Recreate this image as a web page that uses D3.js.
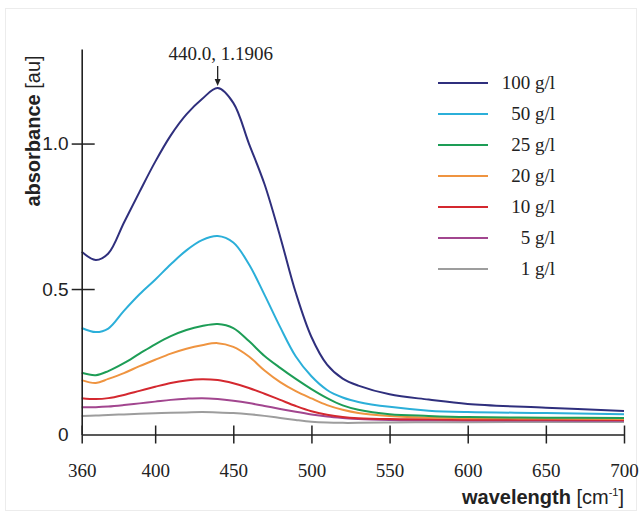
<!DOCTYPE html>
<html>
<head>
<meta charset="utf-8">
<script src="https://cdn.jsdelivr.net/npm/d3@7"></script>
<style>
  body { margin: 0; background: #fff; }
  svg { display: block; }
</style>
</head>
<body>
<div id="chart"></div>
<script>
// wavelengths (nm) the curves were read at
const wavelengths = [353, 362, 370, 380, 390, 400, 410, 420, 430, 440, 450, 460, 470,
    480, 490, 500, 510, 520, 530, 550, 575, 600, 650, 700];

const seriesNames = ['100 g/l', '50 g/l', '25 g/l', '20 g/l', '10 g/l', '5 g/l', '1 g/l'];
const seriesColors = ['#2f2f7d', '#2bafd9', '#1d9d56', '#ef9440', '#d4282f', '#a2468f', '#9d9d9d'];

const abs100 = [0.628, 0.600, 0.622, 0.728, 0.834, 0.937, 1.028, 1.100, 1.153, 1.1906, 1.140, 1.000, 0.860,
    0.680, 0.487, 0.335, 0.240, 0.192, 0.168, 0.138, 0.120, 0.105, 0.092, 0.081];
const abs50 = [0.366, 0.352, 0.364, 0.425, 0.482, 0.532, 0.585, 0.633, 0.668, 0.682, 0.660, 0.585, 0.480,
    0.369, 0.268, 0.200, 0.153, 0.127, 0.112, 0.095, 0.082, 0.077, 0.074, 0.070];
const abs25 = [0.212, 0.204, 0.218, 0.245, 0.278, 0.310, 0.338, 0.359, 0.373, 0.380, 0.366, 0.321, 0.270,
    0.229, 0.191, 0.156, 0.125, 0.100, 0.085, 0.070, 0.064, 0.060, 0.058, 0.057];
const abs20 = [0.187, 0.177, 0.191, 0.211, 0.235, 0.257, 0.278, 0.295, 0.307, 0.314, 0.301, 0.268, 0.220,
    0.180, 0.149, 0.124, 0.101, 0.085, 0.074, 0.064, 0.058, 0.056, 0.055, 0.053];
const abs10 = [0.125, 0.122, 0.125, 0.136, 0.150, 0.164, 0.177, 0.186, 0.190, 0.187, 0.176, 0.160, 0.140,
    0.119, 0.098, 0.080, 0.068, 0.060, 0.056, 0.053, 0.052, 0.051, 0.051, 0.050];
const abs5 = [0.094, 0.094, 0.096, 0.101, 0.107, 0.113, 0.119, 0.123, 0.125, 0.122, 0.116, 0.108, 0.098,
    0.088, 0.078, 0.069, 0.062, 0.057, 0.053, 0.050, 0.049, 0.048, 0.048, 0.047];
const abs1 = [0.064, 0.065, 0.067, 0.069, 0.071, 0.073, 0.075, 0.076, 0.077, 0.076, 0.074, 0.070, 0.064,
    0.057, 0.050, 0.044, 0.041, 0.040, 0.040, 0.041, 0.042, 0.042, 0.043, 0.043];

const seriesValues = [abs100, abs50, abs25, abs20, abs10, abs5, abs1];

// x axis starts a little before 360 in the original, the first label sits at the corner
const xDomain = [353, 700];
const xTicks = [353, 400, 450, 500, 550, 600, 650, 700];
const xTickLabels = ['360', '400', '450', '500', '550', '600', '650', '700'];
const yDomain = [0, 1.325];
const yTicks = [0, 0.5, 1.0];
const yTickLabels = ['0', '0.5', '1.0'];

const peak = { x: 440, y: 1.1906, label: '440.0, 1.1906' };

const width = 641, height = 515;
const margin = { top: 49, right: 17, bottom: 80.5, left: 81.7 };

const svg = d3.select('#chart')
    .append('svg')
    .attr('width', width)
    .attr('height', height);

// faint frame round the figure
svg.append('rect')
    .attr('x', 5.5)
    .attr('y', 8.5)
    .attr('width', 631)
    .attr('height', 502)
    .style('fill', 'none')
    .style('stroke', '#ececec');

const x = d3.scaleLinear()
    .domain(xDomain)
    .range([margin.left, width - margin.right]);

const y = d3.scaleLinear()
    .domain(yDomain)
    .range([height - margin.bottom, margin.top]);

const serif = '"Liberation Serif", "Times New Roman", serif';
const sans = '"Liberation Sans", Arial, sans-serif';

// curves
const line = d3.line()
    .x(d => x(d[0]))
    .y(d => y(d[1]))
    .curve(d3.curveCatmullRom.alpha(0.5));

seriesValues.slice().reverse().forEach((vals, i) => {
    const k = seriesValues.length - 1 - i;
    svg.append('path')
        .datum(wavelengths.map((w, j) => [w, vals[j]]))
        .attr('d', line)
        .style('fill', 'none')
        .style('stroke', seriesColors[k])
        .style('stroke-width', 2);
});

// x axis
const xAxis = svg.append('g')
    .attr('transform', `translate(0,${y(0)})`)
    .call(d3.axisBottom(x)
        .tickValues(xTicks)
        .tickFormat((d, i) => xTickLabels[i])
        .tickSizeInner(9)
        .tickSizeOuter(0)
        .tickPadding(20))
    .attr('font-family', serif)
    .attr('font-size', 19);
xAxis.selectAll('.tick line')
    .attr('y1', -9)
    .style('stroke', '#222')
    .style('stroke-width', 1.5);
xAxis.select('.domain')
    .style('stroke', '#222')
    .style('stroke-width', 1.6);
xAxis.selectAll('text')
    .style('font-family', serif)
    .style('font-size', '19px')
    .style('fill', '#222');

// y axis
const yAxis = svg.append('g')
    .attr('transform', `translate(${x(xDomain[0])},0)`)
    .call(d3.axisLeft(y)
        .tickValues(yTicks)
        .tickFormat((d, i) => yTickLabels[i])
        .tickSizeInner(10)
        .tickSizeOuter(0)
        .tickPadding(3))
    .attr('font-family', sans)
    .attr('font-size', 19);
yAxis.selectAll('.tick line')
    .attr('x2', d => d === 0 ? 0 : 13)
    .attr('x1', d => d === 0 ? 0 : -10)
    .style('stroke', '#222')
    .style('stroke-width', 1.5);
yAxis.select('.domain')
    .style('stroke', '#222')
    .style('stroke-width', 1.6);
yAxis.selectAll('text')
    .style('font-family', sans)
    .style('font-size', '19px')
    .style('fill', '#222');

// axis titles
const yTitle = svg.append('text')
    .attr('transform', 'translate(40,131) rotate(-90)')
    .attr('text-anchor', 'middle')
    .style('font-family', sans)
    .style('font-size', '20px')
    .style('fill', '#222');
yTitle.append('tspan').style('font-weight', 'bold').text('absorbance');
yTitle.append('tspan').text(' [au]');

const xTitle = svg.append('text')
    .attr('x', width - margin.right)
    .attr('y', 504)
    .attr('text-anchor', 'end')
    .style('font-family', sans)
    .style('font-size', '20px')
    .style('fill', '#222');
xTitle.append('tspan').style('font-weight', 'bold').text('wavelength');
xTitle.append('tspan').text(' [cm');
xTitle.append('tspan').attr('dy', -8).style('font-size', '11px').text('-1');
xTitle.append('tspan').attr('dy', 8).text(']');

// peak annotation
const px = x(peak.x), py = y(peak.y);
svg.append('line')
    .attr('x1', px).attr('x2', px)
    .attr('y1', py - 22).attr('y2', py - 7)
    .style('stroke', '#222')
    .style('stroke-width', 1.3);
svg.append('path')
    .attr('d', `M${px - 3},${py - 9} L${px + 3},${py - 9} L${px},${py - 2} Z`)
    .style('fill', '#222');
svg.append('text')
    .attr('x', px + 3)
    .attr('y', py - 28)
    .attr('text-anchor', 'middle')
    .style('font-family', serif)
    .style('font-size', '19px')
    .style('fill', '#222')
    .text(peak.label);

// legend
const legend = svg.append('g').attr('transform', 'translate(438,83)');
seriesNames.forEach((name, i) => {
    const row = legend.append('g').attr('transform', `translate(0,${i * 31})`);
    row.append('line')
        .attr('x1', 0).attr('x2', 50)
        .style('stroke', seriesColors[i])
        .style('stroke-width', 2);
    row.append('text')
        .attr('x', 117)
        .attr('y', 6)
        .attr('text-anchor', 'end')
        .style('font-family', serif)
        .style('font-size', '19px')
        .style('fill', '#222')
        .text(name);
});
</script>
</body>
</html>
